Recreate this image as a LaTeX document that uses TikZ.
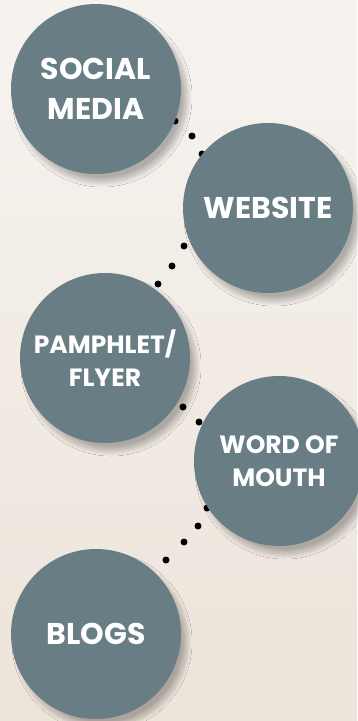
\documentclass[tikz,border=0pt]{standalone}
\usepackage{fontspec}
\setmainfont{Poppins}
\usetikzlibrary{shadows.blur}
\definecolor{bgtop}{HTML}{F6F3EF}
\definecolor{bgbot}{HTML}{EDE4DA}
\definecolor{slate}{HTML}{687D84}
\tikzset{
  bubble/.style={circle, fill=slate, minimum size=170pt, inner sep=0pt,
    text=white, font=\bfseries, align=center,
    blur shadow={shadow xshift=6pt, shadow yshift=-8pt, shadow blur steps=20, shadow opacity=28, shadow blur radius=5pt}},
  dotmark/.style={circle, fill=black, minimum size=7pt, inner sep=0pt},
  big/.style={font=\fontsize{30}{40}\selectfont\bfseries},
  small/.style={font=\fontsize{25}{33}\selectfont\bfseries}
}
\begin{document}
\begin{tikzpicture}[x=1pt,y=-1pt]
\useasboundingbox (0,0) rectangle (357,721);
\shade[top color=bgtop, bottom color=bgbot] (0,0) rectangle (357,721);
% dots (behind circles)
\foreach \p/\n in {(175,121)/a1,(192,136)/a2,(202,154)/a3,
                  (184,246)/b1,(172,266)/b2,(158,284)/b3,
                  (183,407)/c1,(199,422)/c2,
                  (207,508)/d1,(198,526)/d2,(184,542)/d3,(166,560)/d4}
  \node[dotmark] (\n) at \p {};
\node[bubble, big] (social) at (96,89) {SOCIAL\\MEDIA};
\node[bubble, big] (website) at (268,208) {WEBSITE};
\node[bubble, small] (pamphlet) at (105,358) {PAMPHLET/\\FLYER};
\node[bubble, small] (wom) at (279,461) {WORD OF\\MOUTH};
\node[bubble, big] (blogs) at (96,634) {BLOGS};
\end{tikzpicture}
\end{document}
